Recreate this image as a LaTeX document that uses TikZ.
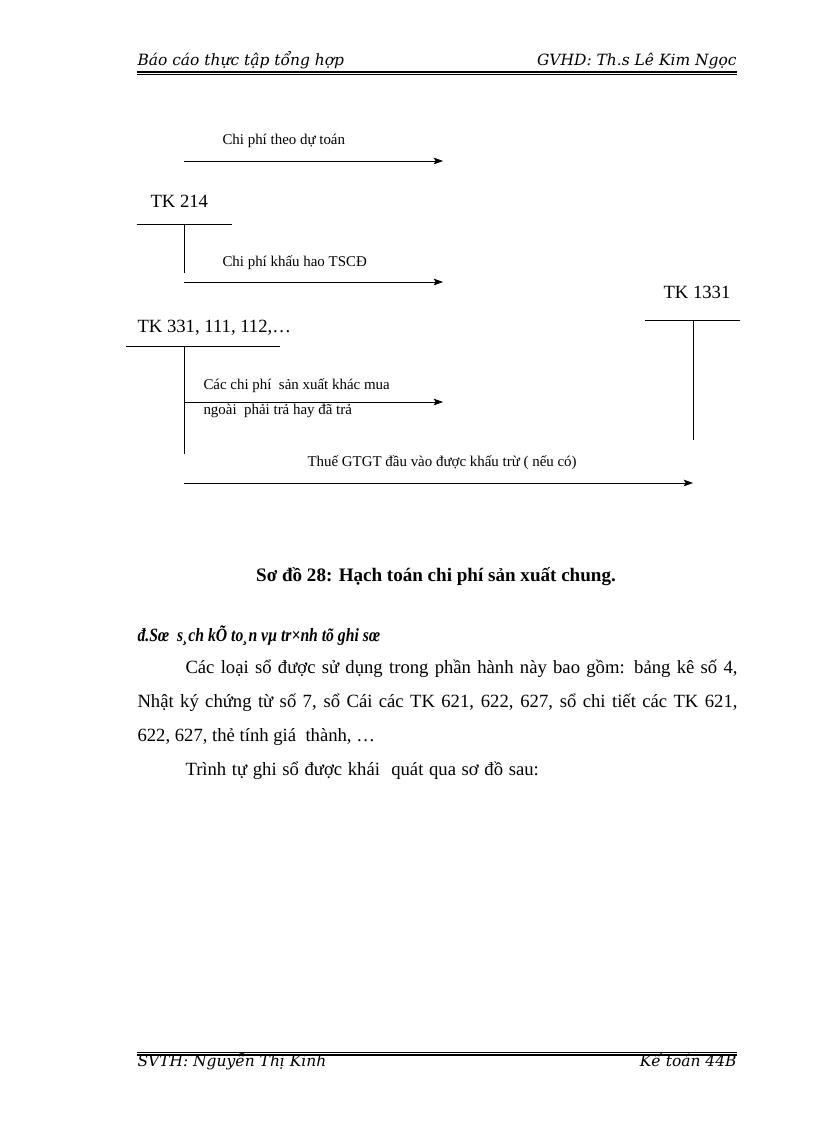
\documentclass[tikz,border=0pt]{standalone}
\usepackage{fontspec}
\setmainfont{Liberation Serif}
\newfontfamily\headfont{DejaVu Serif}
\usetikzlibrary{arrows.meta}

\tikzset{every picture/.style={line width=0.75pt}}
\tikzset{
  lbl/.style={font=\fontsize{11.2}{13}\selectfont, inner sep=0pt, anchor=base west},
  account/.style={font=\fontsize{14}{16}\selectfont, inner sep=0pt, anchor=base west},
  body/.style={font=\fontsize{14}{16}\selectfont, inner sep=0pt, anchor=base west},
  pagehead/.style={font=\headfont\itshape\fontsize{11.6}{13}\selectfont, inner sep=0pt},
  flow/.style={line width=0.6pt, -{Stealth[length=7pt,width=5pt,inset=1.5pt]}},
  tline/.style={line width=0.6pt},
}

\begin{document}
\begin{tikzpicture}[x=0.75pt,y=0.75pt,yscale=-1,xscale=1]
\useasboundingbox (0,0) rectangle (816,1123);

% Header
\node (headl) [pagehead, anchor=base west] at (137,66) {Báo cáo thực tập tổng hợp};
\node (headr) [pagehead, anchor=base east] at (737,66) {GVHD: Th.s Lê Kim Ngọc};
\draw [line width=1.3pt] (137,72) -- (737,72) ;
\draw [line width=0.5pt] (137,74.7) -- (737,74.7) ;

%Straight Lines: Chi phi theo du toan
\coordinate (dtS) at (184,161);
\coordinate (dtE) at (443,161);
\draw [flow] (dtS) -- (dtE) ;
% Text Node
\node (dutoan) [lbl] at (222,145) {Chi phí theo dự toán};

%Shape: T account TK 214
\coordinate (t214L) at (137,224);
\coordinate (t214R) at (232,224);
\coordinate (t214T) at (184,224);
\coordinate (t214B) at (184,273);
\draw [tline] (t214L) -- (t214R) ;
\draw [tline] (t214T) -- (t214B) ;
% Text Node
\node (tk214) [account] at (150,208) {TK 214};

%Straight Lines: khau hao
\coordinate (khS) at (184,282);
\coordinate (khE) at (443,282);
\draw [flow] (khS) -- (khE) ;
% Text Node
\node (khauhao) [lbl] at (222,267) {Chi phí khấu hao TSCĐ};

%Shape: T account TK 1331
\coordinate (t1331L) at (645,320);
\coordinate (t1331R) at (740,320);
\coordinate (t1331T) at (693,320);
\coordinate (t1331B) at (693,440);
\draw [tline] (t1331L) -- (t1331R) ;
\draw [tline] (t1331T) -- (t1331B) ;
% Text Node
\node (tk1331) [account] at (663,298) {TK 1331};

%Shape: T account TK 331, 111, 112
\coordinate (t331L) at (126,346);
\coordinate (t331R) at (280,346);
\coordinate (t331T) at (184,346);
\coordinate (t331B) at (184,454);
\draw [tline] (t331L) -- (t331R) ;
\draw [tline] (t331T) -- (t331B) ;
% Text Node
\node (tk331) [account] at (137,332) {TK 331, 111, 112,…};

%Straight Lines: mua ngoai
\coordinate (mnS) at (184,402);
\coordinate (mnE) at (443,402);
\draw [flow] (mnS) -- (mnE) ;
% Text Node
\node (muangoaiA) [lbl] at (203,389) {Các chi phí \ sản xuất khác mua};
\node (muangoaiB) [lbl] at (203,414) {ngoài \ phải trả hay đã trả};

%Straight Lines: thue GTGT
\coordinate (vatS) at (184,483);
\coordinate (vatE) at (693,483);
\draw [flow] (vatS) -- (vatE) ;
% Text Node
\node (thue) [lbl] at (307,466) {Thuế GTGT đầu vào được khấu trừ ( nếu có)};

% Caption
\node (caption) [body, font=\fontsize{14.3}{16}\selectfont\bfseries, anchor=base] at (436,581) {Sơ đồ 28: Hạch toán chi phí sản xuất chung.};

% Section text
\node (section) [body, font=\fontsize{14}{16}\selectfont\bfseries\itshape] at (137,641) {\scalebox{0.84}[1]{đ.Sœ \ s¸ch kÕ to¸n vµ tr×nh tõ ghi sœ}};
\node (parA) [body] at (185,673) {\makebox[414pt][s]{Các loại sổ được sử dụng trong phần hành này bao gồm: bảng kê số 4,}};
\node (parB) [body] at (137,707) {\makebox[450pt][s]{Nhật ký chứng từ số 7, sổ Cái các TK 621, 622, 627, sổ chi tiết các TK 621,}};
\node (parC) [body] at (137,741) {622, 627, thẻ tính giá \ thành, …};
\node (parD) [body] at (185,775) {\makebox[265pt][s]{Trình tự ghi sổ được khái \ quát qua sơ đồ sau:}};

% Footer
\draw [line width=0.5pt] (137,1052) -- (737,1052) ;
\draw [line width=1.3pt] (137,1054.7) -- (737,1054.7) ;
\node (footl) [pagehead, anchor=base west] at (137,1066) {SVTH: Nguyễn Thị Kinh};
\node (footr) [pagehead, anchor=base east] at (737,1066) {Kế toán 44B};

\end{tikzpicture}
\end{document}
